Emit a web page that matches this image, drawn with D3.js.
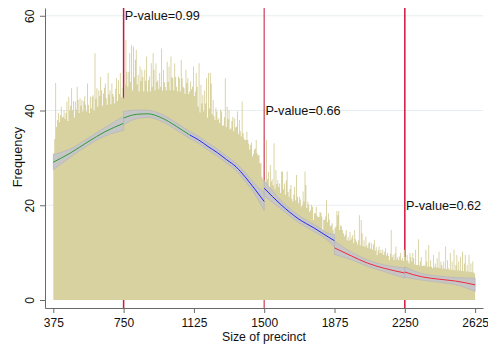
<!DOCTYPE html>
<html>
<head>
<meta charset="utf-8">
<script src="https://cdn.jsdelivr.net/npm/d3@7"></script>
<style>
  html, body { margin: 0; padding: 0; background: #ffffff; }
  svg { display: block; font-family: "Liberation Sans", Arial, sans-serif; }
</style>
</head>
<body>
<svg id="chart" width="488" height="345"></svg>
<script>
// ---------------- DATA ----------------
// histogram: frequency per precinct-size bin (bins of 5, starting at 375)
const binStart = 375;
const binWidth = 5;
const freq = [
  31, 34, 45.8, 36.5, 38, 39.5, 37.5, 39, 40.8, 38.5,
  38.7, 40, 38.2, 39.5, 41.9, 37.8, 42.9, 40, 41, 44.7,
  40.1, 42, 38.5, 41.9, 40.2, 45, 42.2, 39.5, 42.6, 41,
  42.2, 39.8, 41.9, 43, 41.2, 39.8, 45.7, 41.2, 39.5, 42.9,
  40.4, 42.9, 43.2, 40, 52.1, 42.5, 44.7, 40.8, 44.3, 43,
  47.1, 44.3, 41, 43.6, 44.8, 45.7, 42.6, 41.2, 47.9, 43.4,
  44.3, 41.3, 45.7, 43.5, 42.9, 41.5, 44.6, 46.8, 42, 46.4,
  43.5, 47.9, 42.8, 44.7, 42.8, 42.5, 45.5, 54.9, 48.2, 45,
  48.2, 52.1, 46, 53.8, 44.2, 53.5, 47, 50.7, 52.8, 45.5,
  47.5, 44, 49.3, 46.2, 48.6, 47.1, 44, 48.6, 46.3, 51.4,
  44, 46.4, 47.2, 44, 50, 45, 52.1, 48.6, 44.2, 50,
  46, 46.4, 44.5, 47.9, 45, 53.1, 44.2, 48.6, 46, 45,
  44.2, 50.3, 46, 49.3, 44.3, 51.4, 47, 46.8, 44.2, 50,
  47.1, 45, 44, 47.2, 46.8, 44, 50.7, 46.8, 45, 44.7,
  43.5, 48.6, 45.8, 46.8, 43.5, 44, 46.1, 44.5, 45, 49.3,
  43, 44, 47.9, 45, 40.8, 50, 39.6, 45.4, 41.5, 43.3,
  39.8, 44.3, 41.5, 46.8, 38.5, 47.9, 40.4, 47.9, 45.7, 39.2,
  42.2, 38.8, 38, 40.6, 39.8, 38, 38.4, 37.3, 40.2, 39.8,
  36.8, 36.9, 38.6, 46.8, 36.5, 40.8, 38.2, 40.1, 36, 36.2,
  37.8, 38.7, 35.6, 38.3, 36.4, 36.6, 39.8, 35, 38, 35.6,
  34.5, 41.9, 35.2, 34.1, 33.8, 33.8, 35.5, 33.8, 33, 31.7,
  32.7, 33.2, 30.3, 30.8, 31.7, 32, 33.8, 31, 30.5, 30.6,
  28.8, 28.9, 26, 25.5, 25, 25.2, 24, 33.8, 25.5, 27,
  23.5, 28.5, 25, 25.5, 24.2, 33.1, 23.5, 27.4, 24.5, 25.3,
  23.8, 24.6, 22.6, 27.1, 27.1, 23.4, 24.6, 22.2, 25.2, 27.1,
  22.8, 21.8, 23.5, 24.3, 21.3, 20.8, 22.2, 23.9, 21, 26.4,
  21.8, 20.5, 21.8, 21.2, 19.7, 20, 22.9, 20.8, 27.1, 24.3,
  19.4, 20.8, 20.2, 18.6, 19, 20.1, 19.7, 16.9, 18.3, 18.3,
  19.7, 17.8, 17.5, 17.5, 18.6, 18.4, 17.6, 14.8, 17, 16.9,
  17.6, 21.1, 16.4, 18.3, 17, 15.5, 15.8, 16.2, 14.8, 13.4,
  15.2, 15.5, 18.8, 17.9, 18.8, 14.8, 15.8, 15.5, 14.8, 14.1,
  13.4, 13.8, 14.8, 12.6, 13.3, 12.5, 14.4, 12.7, 13.2, 13.7,
  12, 14.8, 12.8, 12.3, 11.7, 12.6, 17.9, 11.5, 16.9, 14.1,
  11.4, 12.6, 11.2, 13.4, 11.5, 10.9, 12, 12.3, 10.8, 11.9,
  10.6, 11.7, 12.7, 10.4, 11.2, 9.5, 10.5, 11.3, 9.9, 10.6,
  9.8, 10.6, 9.5, 10.2, 10.9, 9.4, 9.9, 9.3, 8.4, 9.8,
  14.8, 9, 9.5, 8.4, 9.8, 11.3, 8.6, 9.1, 8.4, 9.2,
  9.9, 8.4, 8.8, 8.3, 10.6, 9.1, 8.4, 9.5, 8.2, 7.7,
  9.9, 9.1, 8.1, 9.9, 8.8, 7.5, 10.6, 7.4, 7.4, 12.8,
  7.3, 8.1, 9.1, 7.2, 7.2, 7.4, 7.1, 10.6, 8.1, 7,
  11.6, 7, 8.4, 7, 6.7, 9.5, 6.9, 7.7, 6.8, 8.8,
  6.8, 10.2, 6.7, 8.1, 7.4, 6.6, 8.1, 6.6, 11.3, 6.5,
  8.4, 6.7, 6.4, 9.9, 6.4, 8.1, 6.3, 10.6, 6.3, 7.4,
  9.5, 6.2, 8.1, 6.2, 9.1, 6.1, 10.2, 6.1, 7.7, 9.5,
  6, 7.4, 6, 9.5, 5.9, 7.7, 5.9, 8.1, 5.8, 5.6
];

// local polynomial fits (segments between cutoffs) with CI half-widths
const segA_x = [375, 465, 560, 650, 750];
const segA_y = [29.1, 31.0, 33.4, 35.5, 37.3];
const segA_se = [1.6, 0.9, 0.75, 0.9, 1.5];

const segB_x = [750, 820, 880, 950, 1030, 1100, 1150, 1200, 1250, 1300, 1350, 1400, 1450, 1500];
const segB_y = [38.4, 39.2, 39.3, 38.5, 36.7, 34.9, 33.8, 32.4, 31.1, 29.6, 28.1, 25.9, 23.4, 20.8];
const segB_se = [1.4, 0.9, 0.75, 0.75, 0.75, 0.75, 0.75, 0.75, 0.75, 0.75, 0.8, 0.9, 1.1, 1.9];

const segC_x = [1500, 1590, 1680, 1770, 1850, 1875];
const segC_y = [23.6, 20.1, 17.2, 15.1, 13.1, 12.5];
const segC_se = [1.6, 0.9, 0.75, 0.75, 0.9, 1.4];

const segD_x = [1875, 1965, 2050, 2140, 2250];
const segD_y = [11.0, 9.3, 7.8, 6.7, 5.7];
const segD_se = [1.4, 0.8, 0.7, 0.7, 1.1];

const segE_x = [2250, 2340, 2430, 2520, 2625];
const segE_y = [5.9, 4.9, 4.4, 4.0, 3.2];
const segE_se = [1.1, 0.7, 0.65, 0.75, 1.4];

const colorBreak = 1105; // fit colour changes from green to blue here

// cutoffs and their tests
const cutoffs = [750, 1500, 2250];
const pLabels = ["P-value=0.99", "P-value=0.66", "P-value=0.62"];
const pLabelY = [60, 40, 20];

// axes
const xTicks = [375, 750, 1125, 1500, 1875, 2250, 2625];
const yTicks = [0, 20, 40, 60];
const xTitle = "Size of precinct";
const yTitle = "Frequency";

// ---------------- DRAW ----------------
const W = 488, H = 345;
const m = { left: 45, top: 8, right: 5, bottom: 37 };
const svg = d3.select("#chart");

const x = d3.scaleLinear().domain([330.7, 2667]).range([m.left, W - m.right]);
const y = d3.scaleLinear().domain([-1.69, 61.64]).range([H - m.bottom, m.top]);

// gridlines
svg.append("g").selectAll("line").data(yTicks.filter(d => d > 0)).join("line")
  .attr("x1", m.left).attr("x2", W - m.right)
  .attr("y1", d => y(d)).attr("y2", d => y(d))
  .attr("stroke", "#e7eef1").attr("stroke-width", 1);

// cutoff lines
const vColors = ["#c8183c", "#d8637b", "#d0143c"];
svg.append("g").selectAll("line").data(cutoffs).join("line")
  .attr("x1", d => x(d)).attr("x2", d => x(d))
  .attr("y1", m.top).attr("y2", H - m.bottom)
  .attr("stroke", (d, i) => vColors[i]).attr("stroke-width", 1.5);

// histogram as one step area (bars of width binWidth)
const bins = freq.map((v, i) => ({ s: binStart + i * binWidth, v }));
bins.push({ s: binStart + freq.length * binWidth, v: freq[freq.length - 1] });
svg.append("path")
  .datum(bins)
  .attr("fill", "#d8d1a0")
  .attr("d", d3.area().curve(d3.curveStepAfter)
    .x(d => x(d.s)).y0(y(0)).y1(d => y(d.v)));

// fits
const defs = svg.append("defs");
const gB = defs.append("linearGradient").attr("id", "gB")
  .attr("gradientUnits", "userSpaceOnUse")
  .attr("x1", x(segB_x[0])).attr("x2", x(segB_x[segB_x.length - 1]))
  .attr("y1", 0).attr("y2", 0);
const tB = (colorBreak - segB_x[0]) / (segB_x[segB_x.length - 1] - segB_x[0]);
gB.append("stop").attr("offset", tB).attr("stop-color", "#2f9a35");
gB.append("stop").attr("offset", tB).attr("stop-color", "#2a2af0");

const segs = [
  { xs: segA_x, ys: segA_y, se: segA_se, color: "#2f9a35" },
  { xs: segB_x, ys: segB_y, se: segB_se, color: "url(#gB)" },
  { xs: segC_x, ys: segC_y, se: segC_se, color: "#2a2af0" },
  { xs: segD_x, ys: segD_y, se: segD_se, color: "#f0283c" },
  { xs: segE_x, ys: segE_y, se: segE_se, color: "#f0283c" }
];
const band = d3.area().curve(d3.curveMonotoneX)
  .x(d => x(d.x)).y0(d => y(d.y - d.se)).y1(d => y(d.y + d.se));
const line = d3.line().curve(d3.curveMonotoneX).x(d => x(d.x)).y(d => y(d.y));
segs.forEach(s => {
  const pts = s.xs.map((xv, i) => ({ x: xv, y: s.ys[i], se: s.se[i] }));
  svg.append("path").datum(pts).attr("d", band)
    .attr("fill", "#c4c4c9").attr("fill-opacity", 0.92)
    .attr("stroke", "#b2b2b8").attr("stroke-width", 0.6);
  svg.append("path").datum(pts).attr("d", line)
    .attr("fill", "none").attr("stroke", s.color).attr("stroke-width", 1);
});

// p-value labels
svg.append("g").selectAll("text").data(cutoffs).join("text")
  .attr("x", d => x(d) + 1.2)
  .attr("y", (d, i) => y(pLabelY[i]))
  .attr("dy", "0.35em")
  .attr("font-size", "12.7px").attr("fill", "#111")
  .text((d, i) => pLabels[i]);

// axes
const axisColor = "#6a6a6a";
const gx = svg.append("g").attr("transform", `translate(0,${H - m.bottom})`)
  .call(d3.axisBottom(x).tickValues(xTicks).tickSize(5).tickSizeOuter(0).tickFormat(d3.format("d")));
gx.selectAll("text").attr("y", 19).attr("dy", 0).attr("font-size", "12px")
  .attr("font-family", "Liberation Sans, Arial, sans-serif").attr("fill", "#111");

const gy = svg.append("g").attr("transform", `translate(${m.left},0)`)
  .call(d3.axisLeft(y).tickValues(yTicks).tickSize(5).tickSizeOuter(0));
gy.selectAll("text").attr("transform", "rotate(-90)")
  .attr("x", 0).attr("y", -10.7).attr("dy", 0).attr("text-anchor", "middle")
  .attr("font-size", "12px").attr("font-family", "Liberation Sans, Arial, sans-serif").attr("fill", "#111");

[gx, gy].forEach(g => {
  g.select(".domain").attr("stroke", axisColor);
  g.selectAll(".tick line").attr("stroke", axisColor);
});

// titles
svg.append("text").attr("x", (m.left + W - m.right) / 2).attr("y", 340.5)
  .attr("text-anchor", "middle").attr("font-size", "12.3px").attr("fill", "#111")
  .text(xTitle);
svg.append("text").attr("transform", "translate(21.7,157) rotate(-90)")
  .attr("text-anchor", "middle").attr("font-size", "12.8px").attr("fill", "#111")
  .text(yTitle);
</script>
</body>
</html>
